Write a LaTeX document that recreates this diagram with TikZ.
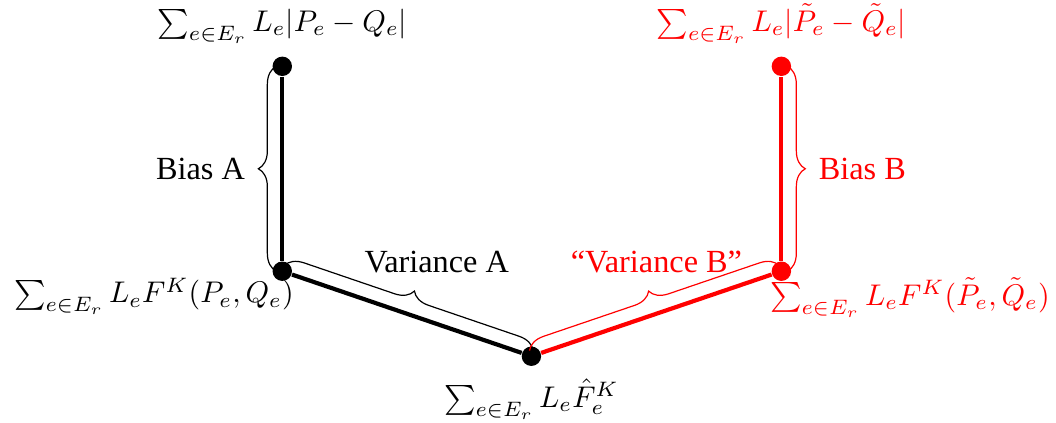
\documentclass[tikz,border=0pt]{standalone}
\usepackage{amsmath,amssymb}
\usepackage{fontspec}
\setmainfont{Liberation Serif}
\usepackage{xcolor}
\usetikzlibrary{positioning,decorations.pathreplacing}

\begin{document}
\begin{tikzpicture}[
  dot/.style={circle, fill, inner sep=0pt, minimum size=6.5pt},
  seg/.style={line width=1.4pt},
  brc/.style={decorate, decoration={brace, amplitude=6pt, raise=2pt}},
  txt/.style={font=\fontsize{10.8}{13}\selectfont},
  lab/.style={inner sep=1pt}
]
\useasboundingbox (0,0) rectangle (12.42,4.97);
\node[dot] (ta) at (3.32,4.19) {};
\node[dot] (ba) at (3.32,1.78) {};
\node[dot] (fk) at (6.25,0.78) {};
\node[dot, red] (bb) at (9.19,1.78) {};
\node[dot, red] (tb) at (9.19,4.19) {};

\draw[seg] (ta) -- (ba);
\draw[seg] (ba) -- (fk);
\draw[seg, red] (fk) -- (bb);
\draw[seg, red] (bb) -- (tb);

\draw[brc] (ba.center) -- node[txt, left=9pt] {Bias A} (ta.center);
\draw[brc] (ba.center) -- node[txt, above=10pt, xshift=10pt] {Variance A} (fk.center);
\draw[brc, red] (fk.center) -- node[txt, above=10pt] {``Variance B''} (bb.center);
\draw[brc, red] (tb.center) -- node[txt, right=9pt] {Bias B} (bb.center);

\node[lab, above=3pt of ta] {$\sum_{e\in E_r} L_e|P_e-Q_e|$};
\node[lab, red, above=3pt of tb] {$\sum_{e\in E_r} L_e|\tilde{P}_e-\tilde{Q}_e|$};
\node[lab, anchor=north east, xshift=5pt, yshift=-1pt] at (ba.center) {$\sum_{e\in E_r} L_eF^K(P_e,Q_e)$};
\node[lab, red, anchor=north west, xshift=-5pt, yshift=-1pt] at (bb.center) {$\sum_{e\in E_r} L_eF^K(\tilde{P}_e,\tilde{Q}_e)$};
\node[lab, below=3pt of fk] {$\sum_{e\in E_r} L_e\hat{F}_e^K$};
\end{tikzpicture}
\end{document}
